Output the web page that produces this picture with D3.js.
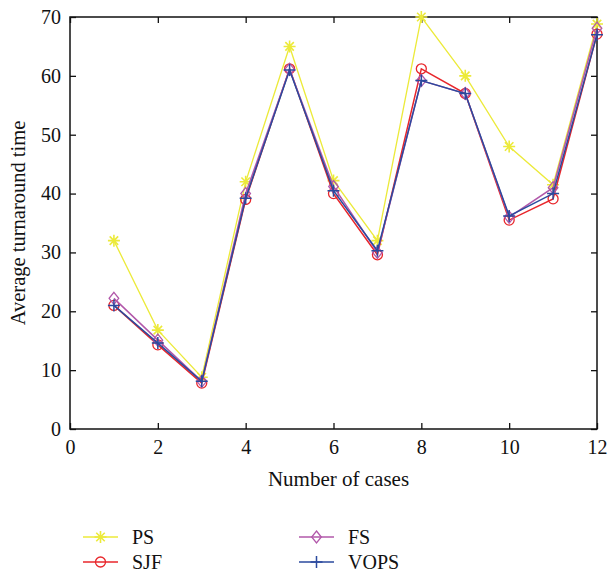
<!DOCTYPE html>
<html>
<head>
<meta charset="utf-8">
<script src="https://cdn.jsdelivr.net/npm/d3@7"></script>
<style>
  body { margin: 0; background: #fff; }
  text { font-family: "Liberation Serif", "DejaVu Serif", serif; fill: #111; }
</style>
</head>
<body>
<script>
// chart values
var cases = [1, 2, 3, 4, 5, 6, 7, 8, 9, 10, 11, 12];
var ps   = [32, 16.8, 8.8, 42, 65, 42.2, 32, 70, 60, 48, 41.5, 68.8];
var sjf  = [21, 14.3, 7.8, 39, 61.2, 40, 29.6, 61.2, 57, 35.5, 39.1, 67.1];
var fs   = [22.2, 15.1, 8.1, 40, 61.1, 41.2, 30, 59.2, 57, 36, 41, 68.1];
var vops = [21, 14.6, 8.1, 39.2, 61, 40.5, 30.3, 59.2, 57, 36.2, 40, 67];
var xTicks = [0, 2, 4, 6, 8, 10, 12];
var yTicks = [0, 10, 20, 30, 40, 50, 60, 70];

var w = 608, h = 573;
// plot box (window.top is reserved, so use other names)
var plotL = 70, plotR = 597, plotT = 17, plotB = 429;

var svg = d3.select("body").append("svg")
    .attr("width", w)
    .attr("height", h);

var x = d3.scaleLinear().domain([0, 12]).range([plotL, plotR]);
var y = d3.scaleLinear().domain([0, 70]).range([plotB, plotT]);

// frame
svg.append("rect")
    .attr("x", plotL).attr("y", plotT)
    .attr("width", plotR - plotL).attr("height", plotB - plotT)
    .attr("fill", "none").attr("stroke", "#111").attr("stroke-width", 1.5);

// axes, ticks pointing inward
var tickLen = 6;
var bottomAxis = svg.append("g").attr("transform", "translate(0," + plotB + ")")
    .call(d3.axisBottom(x).tickValues(xTicks).tickSizeInner(-tickLen).tickSizeOuter(0).tickPadding(11));
var topAxis = svg.append("g").attr("transform", "translate(0," + plotT + ")")
    .call(d3.axisTop(x).tickValues(xTicks).tickSizeInner(-tickLen).tickSizeOuter(0).tickFormat(""));
var leftAxis = svg.append("g").attr("transform", "translate(" + plotL + ",0)")
    .call(d3.axisLeft(y).tickValues(yTicks).tickSizeInner(-tickLen).tickSizeOuter(0).tickPadding(9));
var rightAxis = svg.append("g").attr("transform", "translate(" + plotR + ",0)")
    .call(d3.axisRight(y).tickValues(yTicks).tickSizeInner(-tickLen).tickSizeOuter(0).tickFormat(""));

[bottomAxis, topAxis, leftAxis, rightAxis].forEach(function(a){
  a.select(".domain").remove();
  a.selectAll("line").attr("stroke", "#111").attr("stroke-width", 1.3);
  a.selectAll("text").attr("font-size", 20).attr("font-family", "Liberation Serif, serif").attr("fill", "#111");
});

// axis titles
svg.append("text")
    .attr("x", (plotL + plotR) / 2 + 5).attr("y", 486)
    .attr("text-anchor", "middle").attr("font-size", 21)
    .text("Number of cases");
svg.append("text")
    .attr("transform", "translate(25," + ((plotT + plotB) / 2) + ") rotate(-90)")
    .attr("text-anchor", "middle").attr("font-size", 20.5)
    .text("Average turnaround time");

// series
var series = [
  { name: "PS",   values: ps,   color: "#ecea3a", marker: "star" },
  { name: "SJF",  values: sjf,  color: "#e8262b", marker: "circle" },
  { name: "FS",   values: fs,   color: "#b258aa", marker: "diamond" },
  { name: "VOPS", values: vops, color: "#2b4a9e", marker: "plus" }
];

function drawMarker(g, type, cx, cy, color) {
  if (type === "circle") {
    g.append("circle").attr("cx", cx).attr("cy", cy).attr("r", 5)
      .attr("fill", "none").attr("stroke", color).attr("stroke-width", 1.3);
  } else if (type === "diamond") {
    var s = 6;
    g.append("path")
      .attr("d", "M" + cx + "," + (cy - s) + "L" + (cx + s * 0.8) + "," + cy + "L" + cx + "," + (cy + s) + "L" + (cx - s * 0.8) + "," + cy + "Z")
      .attr("fill", "none").attr("stroke", color).attr("stroke-width", 1.3);
  } else if (type === "plus") {
    var p = 6;
    g.append("path")
      .attr("d", "M" + (cx - p) + "," + cy + "H" + (cx + p) + "M" + cx + "," + (cy - p) + "V" + (cy + p))
      .attr("stroke", color).attr("stroke-width", 1.5);
  } else {
    var r = 6, d = "";
    for (var i = 0; i < 4; i++) {
      var a = i * Math.PI / 4;
      d += "M" + (cx - r * Math.cos(a)) + "," + (cy - r * Math.sin(a)) + "L" + (cx + r * Math.cos(a)) + "," + (cy + r * Math.sin(a));
    }
    g.append("path").attr("d", d).attr("stroke", color).attr("stroke-width", 1.6);
  }
}

var line = d3.line()
    .x(function(d, i){ return x(cases[i]); })
    .y(function(d){ return y(d); });

series.forEach(function(s){
  var g = svg.append("g").attr("class", "series");
  g.append("path")
    .attr("d", line(s.values))
    .attr("fill", "none")
    .attr("stroke", s.color)
    .attr("stroke-width", s.name === "PS" ? 1.3 : 1.5);
  s.values.forEach(function(v, i){
    drawMarker(g, s.marker, x(cases[i]), y(v), s.color);
  });
});

// legend, two columns
var legendPos = [[83, 537], [83, 562], [299, 537], [299, 562]];
series.forEach(function(s, i){
  var lx = legendPos[i][0], ly = legendPos[i][1];
  var g = svg.append("g");
  g.append("line").attr("x1", lx).attr("x2", lx + 35).attr("y1", ly).attr("y2", ly)
    .attr("stroke", s.color).attr("stroke-width", 1.5);
  drawMarker(g, s.marker, lx + 17.5, ly, s.color);
  g.append("text").attr("x", lx + 49).attr("y", ly + 7).attr("font-size", 20).text(s.name);
});
</script>
</body>
</html>
